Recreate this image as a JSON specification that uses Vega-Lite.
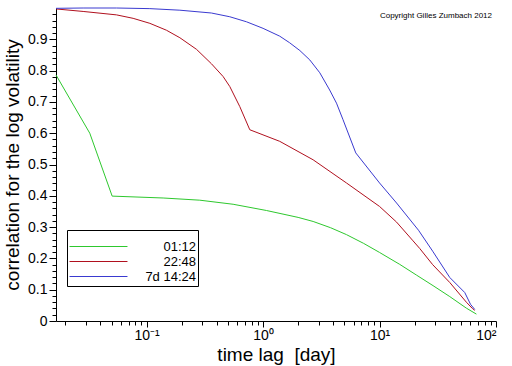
{
  "$schema": "https://vega.github.io/schema/vega-lite/v6.json",
  "width": 440,
  "height": 313,
  "autosize": {"type": "none"},
  "padding": {"left": 56, "top": 8, "right": 16, "bottom": 45},
  "background": "white",
  "title": {
    "text": "Copyright Gilles Zumbach 2012",
    "anchor": "end",
    "orient": "top",
    "frame": "group",
    "font": "Liberation Sans",
    "fontSize": 8,
    "fontWeight": "normal",
    "color": "black",
    "offset": -14,
    "dx": -4
  },
  "config": {
    "view": {"stroke": null},
    "axis": {
      "domainColor": "black",
      "tickColor": "black",
      "labelColor": "black",
      "titleColor": "black",
      "labelFont": "Liberation Sans",
      "titleFont": "Liberation Sans",
      "grid": false
    }
  },
  "data": {
    "values": [
      {"lag": 0.01667, "corr": 0.786, "series": "01:12"},
      {"lag": 0.0325, "corr": 0.600, "series": "01:12"},
      {"lag": 0.0506, "corr": 0.399, "series": "01:12"},
      {"lag": 0.1386, "corr": 0.393, "series": "01:12"},
      {"lag": 0.286, "corr": 0.386, "series": "01:12"},
      {"lag": 0.553, "corr": 0.373, "series": "01:12"},
      {"lag": 1.07, "corr": 0.353, "series": "01:12"},
      {"lag": 2.0, "corr": 0.331, "series": "01:12"},
      {"lag": 2.69, "corr": 0.318, "series": "01:12"},
      {"lag": 3.8, "corr": 0.298, "series": "01:12"},
      {"lag": 5.2, "corr": 0.276, "series": "01:12"},
      {"lag": 7.3, "corr": 0.248, "series": "01:12"},
      {"lag": 10.0, "corr": 0.219, "series": "01:12"},
      {"lag": 14.9, "corr": 0.181, "series": "01:12"},
      {"lag": 20.7, "corr": 0.147, "series": "01:12"},
      {"lag": 28.8, "corr": 0.113, "series": "01:12"},
      {"lag": 40.1, "corr": 0.078, "series": "01:12"},
      {"lag": 55.7, "corr": 0.041, "series": "01:12"},
      {"lag": 67.9, "corr": 0.022, "series": "01:12"},
      {"lag": 0.01667, "corr": 0.997, "series": "22:48"},
      {"lag": 0.0285, "corr": 0.989, "series": "22:48"},
      {"lag": 0.0552, "corr": 0.978, "series": "22:48"},
      {"lag": 0.0766, "corr": 0.967, "series": "22:48"},
      {"lag": 0.1066, "corr": 0.951, "series": "22:48"},
      {"lag": 0.148, "corr": 0.929, "series": "22:48"},
      {"lag": 0.193, "corr": 0.905, "series": "22:48"},
      {"lag": 0.268, "corr": 0.868, "series": "22:48"},
      {"lag": 0.36, "corr": 0.822, "series": "22:48"},
      {"lag": 0.454, "corr": 0.781, "series": "22:48"},
      {"lag": 0.518, "corr": 0.749, "series": "22:48"},
      {"lag": 0.631, "corr": 0.685, "series": "22:48"},
      {"lag": 0.769, "corr": 0.611, "series": "22:48"},
      {"lag": 1.39, "corr": 0.574, "series": "22:48"},
      {"lag": 2.69, "corr": 0.515, "series": "22:48"},
      {"lag": 5.2, "corr": 0.441, "series": "22:48"},
      {"lag": 10.0, "corr": 0.366, "series": "22:48"},
      {"lag": 14.0, "corr": 0.316, "series": "22:48"},
      {"lag": 19.4, "corr": 0.256, "series": "22:48"},
      {"lag": 22.1, "corr": 0.232, "series": "22:48"},
      {"lag": 28.6, "corr": 0.180, "series": "22:48"},
      {"lag": 40.1, "corr": 0.123, "series": "22:48"},
      {"lag": 55.7, "corr": 0.060, "series": "22:48"},
      {"lag": 62.7, "corr": 0.040, "series": "22:48"},
      {"lag": 65.7, "corr": 0.034, "series": "22:48"},
      {"lag": 0.01667, "corr": 0.999, "series": "7d 14:24"},
      {"lag": 0.0285, "corr": 1.0, "series": "7d 14:24"},
      {"lag": 0.0552, "corr": 1.0, "series": "7d 14:24"},
      {"lag": 0.1066, "corr": 0.998, "series": "7d 14:24"},
      {"lag": 0.193, "corr": 0.993, "series": "7d 14:24"},
      {"lag": 0.36, "corr": 0.984, "series": "7d 14:24"},
      {"lag": 0.518, "corr": 0.972, "series": "7d 14:24"},
      {"lag": 0.72, "corr": 0.956, "series": "7d 14:24"},
      {"lag": 1.0, "corr": 0.935, "series": "7d 14:24"},
      {"lag": 1.39, "corr": 0.910, "series": "7d 14:24"},
      {"lag": 1.69, "corr": 0.889, "series": "7d 14:24"},
      {"lag": 2.07, "corr": 0.864, "series": "7d 14:24"},
      {"lag": 2.52, "corr": 0.834, "series": "7d 14:24"},
      {"lag": 3.07, "corr": 0.793, "series": "7d 14:24"},
      {"lag": 3.73, "corr": 0.738, "series": "7d 14:24"},
      {"lag": 4.27, "corr": 0.696, "series": "7d 14:24"},
      {"lag": 4.86, "corr": 0.643, "series": "7d 14:24"},
      {"lag": 6.25, "corr": 0.537, "series": "7d 14:24"},
      {"lag": 10.0, "corr": 0.441, "series": "7d 14:24"},
      {"lag": 14.0, "corr": 0.377, "series": "7d 14:24"},
      {"lag": 21.6, "corr": 0.290, "series": "7d 14:24"},
      {"lag": 28.6, "corr": 0.223, "series": "7d 14:24"},
      {"lag": 40.1, "corr": 0.139, "series": "7d 14:24"},
      {"lag": 53.9, "corr": 0.091, "series": "7d 14:24"},
      {"lag": 60.5, "corr": 0.053, "series": "7d 14:24"},
      {"lag": 65.7, "corr": 0.037, "series": "7d 14:24"}
    ]
  },
  "resolve": {"axis": {"x": "independent", "y": "independent"}},
  "layer": [
    {
      "mark": {"type": "line", "opacity": 0},
      "encoding": {
        "x": {
          "field": "lag", "type": "quantitative",
          "scale": {"type": "log", "domain": [0.01667, 100], "nice": false},
          "axis": {
            "orient": "bottom",
            "values": [0.02, 0.03, 0.04, 0.05, 0.06, 0.07, 0.08, 0.09, 0.2, 0.3, 0.4, 0.5, 0.6, 0.7, 0.8, 0.9, 2, 3, 4, 5, 6, 7, 8, 9, 20, 30, 40, 50, 60, 70, 80, 90],
            "labels": false, "domain": false, "tickSize": 4, "title": null
          }
        },
        "y": {
          "field": "corr", "type": "quantitative",
          "scale": {"domain": [0, 1], "nice": false},
          "axis": {
            "orient": "left",
            "values": [0.02, 0.04, 0.06, 0.08, 0.12, 0.14, 0.16, 0.18, 0.22, 0.24, 0.26, 0.28, 0.32, 0.34, 0.36, 0.38, 0.42, 0.44, 0.46, 0.48, 0.52, 0.54, 0.56, 0.58, 0.62, 0.64, 0.66, 0.68, 0.72, 0.74, 0.76, 0.78, 0.82, 0.84, 0.86, 0.88, 0.92, 0.94, 0.96, 0.98],
            "labels": false, "domain": false, "tickSize": 4, "title": null
          }
        },
        "detail": {"field": "series"}
      }
    },
    {
      "mark": {"type": "line", "strokeWidth": 1, "interpolate": "linear"},
      "encoding": {
        "x": {
          "field": "lag", "type": "quantitative",
          "scale": {"type": "log", "domain": [0.01667, 100], "nice": false},
          "axis": {
            "orient": "bottom",
            "values": [0.1, 1, 10, 100],
            "labelExpr": "datum.value < 0.5 ? '10\u207b\u00b9' : datum.value < 5 ? '10\u2070' : datum.value < 50 ? '10\u00b9' : '10\u00b2'",
            "labelFontSize": 14,
            "labelPadding": 1,
            "tickSize": 6,
            "title": "time lag\u00a0 [day]",
            "titleFontSize": 19,
            "titleFontWeight": "normal",
            "titlePadding": 3
          }
        },
        "y": {
          "field": "corr", "type": "quantitative",
          "scale": {"domain": [0, 1], "nice": false},
          "axis": {
            "orient": "left",
            "values": [0, 0.1, 0.2, 0.3, 0.4, 0.5, 0.6, 0.7, 0.8, 0.9],
            "format": ".1~f",
            "labelFontSize": 14,
            "labelPadding": 2,
            "tickSize": 7,
            "title": "correlation for the log volatility",
            "titleFontSize": 19,
            "titleFontWeight": "normal",
            "titlePadding": 5
          }
        },
        "color": {
          "field": "series", "type": "nominal",
          "scale": {"domain": ["01:12", "22:48", "7d 14:24"], "range": ["#2ec82e", "#b0101e", "#3a3ad0"]},
          "legend": {
            "orient": "none",
            "legendX": 11,
            "legendY": 222,
            "title": " ",
            "titleFontSize": 5,
            "titlePadding": 2,
            "symbolType": "M-4.14,0H4.14",
            "symbolSize": 196,
            "symbolStrokeWidth": 1,
            "symbolOffset": 22,
            "labelAlign": "right",
            "labelOffset": 90,
            "labelFont": "Liberation Sans",
            "labelFontSize": 13,
            "labelColor": "black",
            "labelLimit": 300,
            "strokeColor": "black",
            "fillColor": "white",
            "padding": 2,
            "rowPadding": 0
          }
        }
      }
    }
  ]
}
